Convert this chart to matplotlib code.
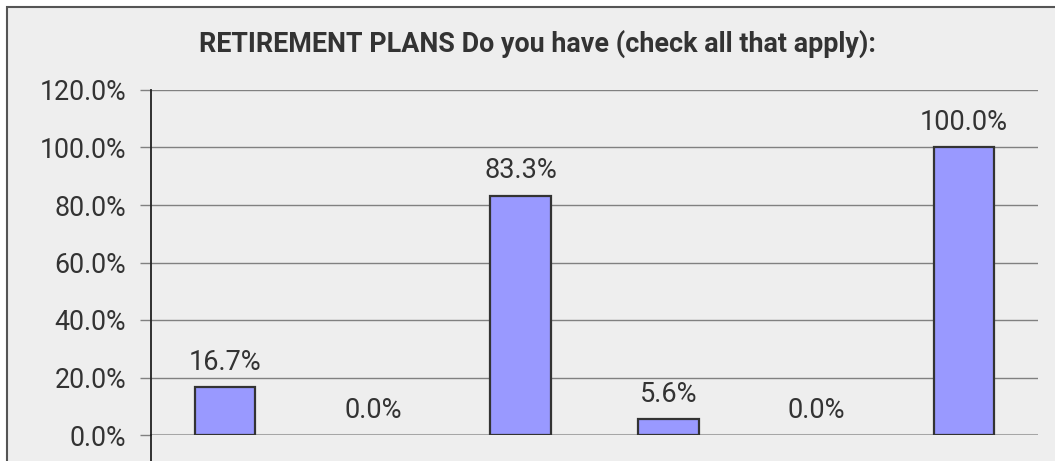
import matplotlib.pyplot as plt
from matplotlib.lines import Line2D
from matplotlib.patches import Rectangle
from matplotlib.ticker import FuncFormatter

plt.rcParams['font.family'] = ['Roboto', 'DejaVu Sans']

# data
kategorije = ['A', 'B', 'C', 'D', 'E', 'F']
postoci = [16.7, 0.0, 83.3, 5.6, 0.0, 100.0]
y_oznake = [0, 20, 40, 60, 80, 100, 120]

pozadina = '#eeeeee'
fig = plt.figure(figsize=(10.55, 4.61), dpi=100, facecolor='white')

# grey panel with a dark border on top and left (chart is cropped right/bottom)
fig.patches.append(Rectangle((7 / 1055, -0.2), 1.2, 1.2 - 7 / 461, transform=fig.transFigure,
                             facecolor=pozadina, edgecolor='#555555', linewidth=1.5, zorder=-5))

ax = fig.add_axes([151 / 1055, 26 / 461, (1038 - 151) / 1055, (435 - 90) / 461])
ax.set_facecolor(pozadina)

x = range(len(kategorije))
rubovi = ['#333333' if v > 0 else 'none' for v in postoci]
ax.bar(x, postoci, width=0.41, color='#9999ff', edgecolor=rubovi, linewidth=1.6, zorder=3)

for xi, v in zip(x, postoci):
    ax.annotate(f'{v:.1f}%', (xi, v), xytext=(0, 12.5), textcoords='offset points',
                ha='center', va='baseline', fontsize=19.5, color='#333333')

ax.set_xlim(-0.5, len(kategorije) - 0.5)
ax.set_ylim(0, 120)
ax.set_yticks(y_oznake)
ax.yaxis.set_major_formatter(FuncFormatter(lambda v, p: f'{v:.1f}%'))
ax.tick_params(axis='y', direction='out', length=8, width=1, color='#808080',
               labelsize=19.3, labelcolor='#333333', pad=10)
ax.tick_params(axis='x', length=0, labelbottom=False)
ax.grid(axis='y', color='#808080', linewidth=1, zorder=1)
ax.set_axisbelow(True)

for s in ['top', 'right', 'bottom']:
    ax.spines[s].set_visible(False)
ax.spines['left'].set_color('#222222')
ax.spines['left'].set_linewidth(1.3)

# zero line and the left spine running on below the plot
ax.axhline(0, color='#a6a6a6', linewidth=2.2, zorder=2)
fig.lines.append(Line2D([151 / 1055, 151 / 1055], [0, 26 / 461], transform=fig.transFigure,
                        color='#222222', linewidth=1.3))

fig.text(537 / 1055, 1 - 52 / 461, 'RETIREMENT PLANS Do you have (check all that apply):',
         ha='center', va='baseline', fontsize=19.4, fontweight='bold', color='#333333')

fig.savefig('out.png', dpi=100, facecolor=fig.get_facecolor())
